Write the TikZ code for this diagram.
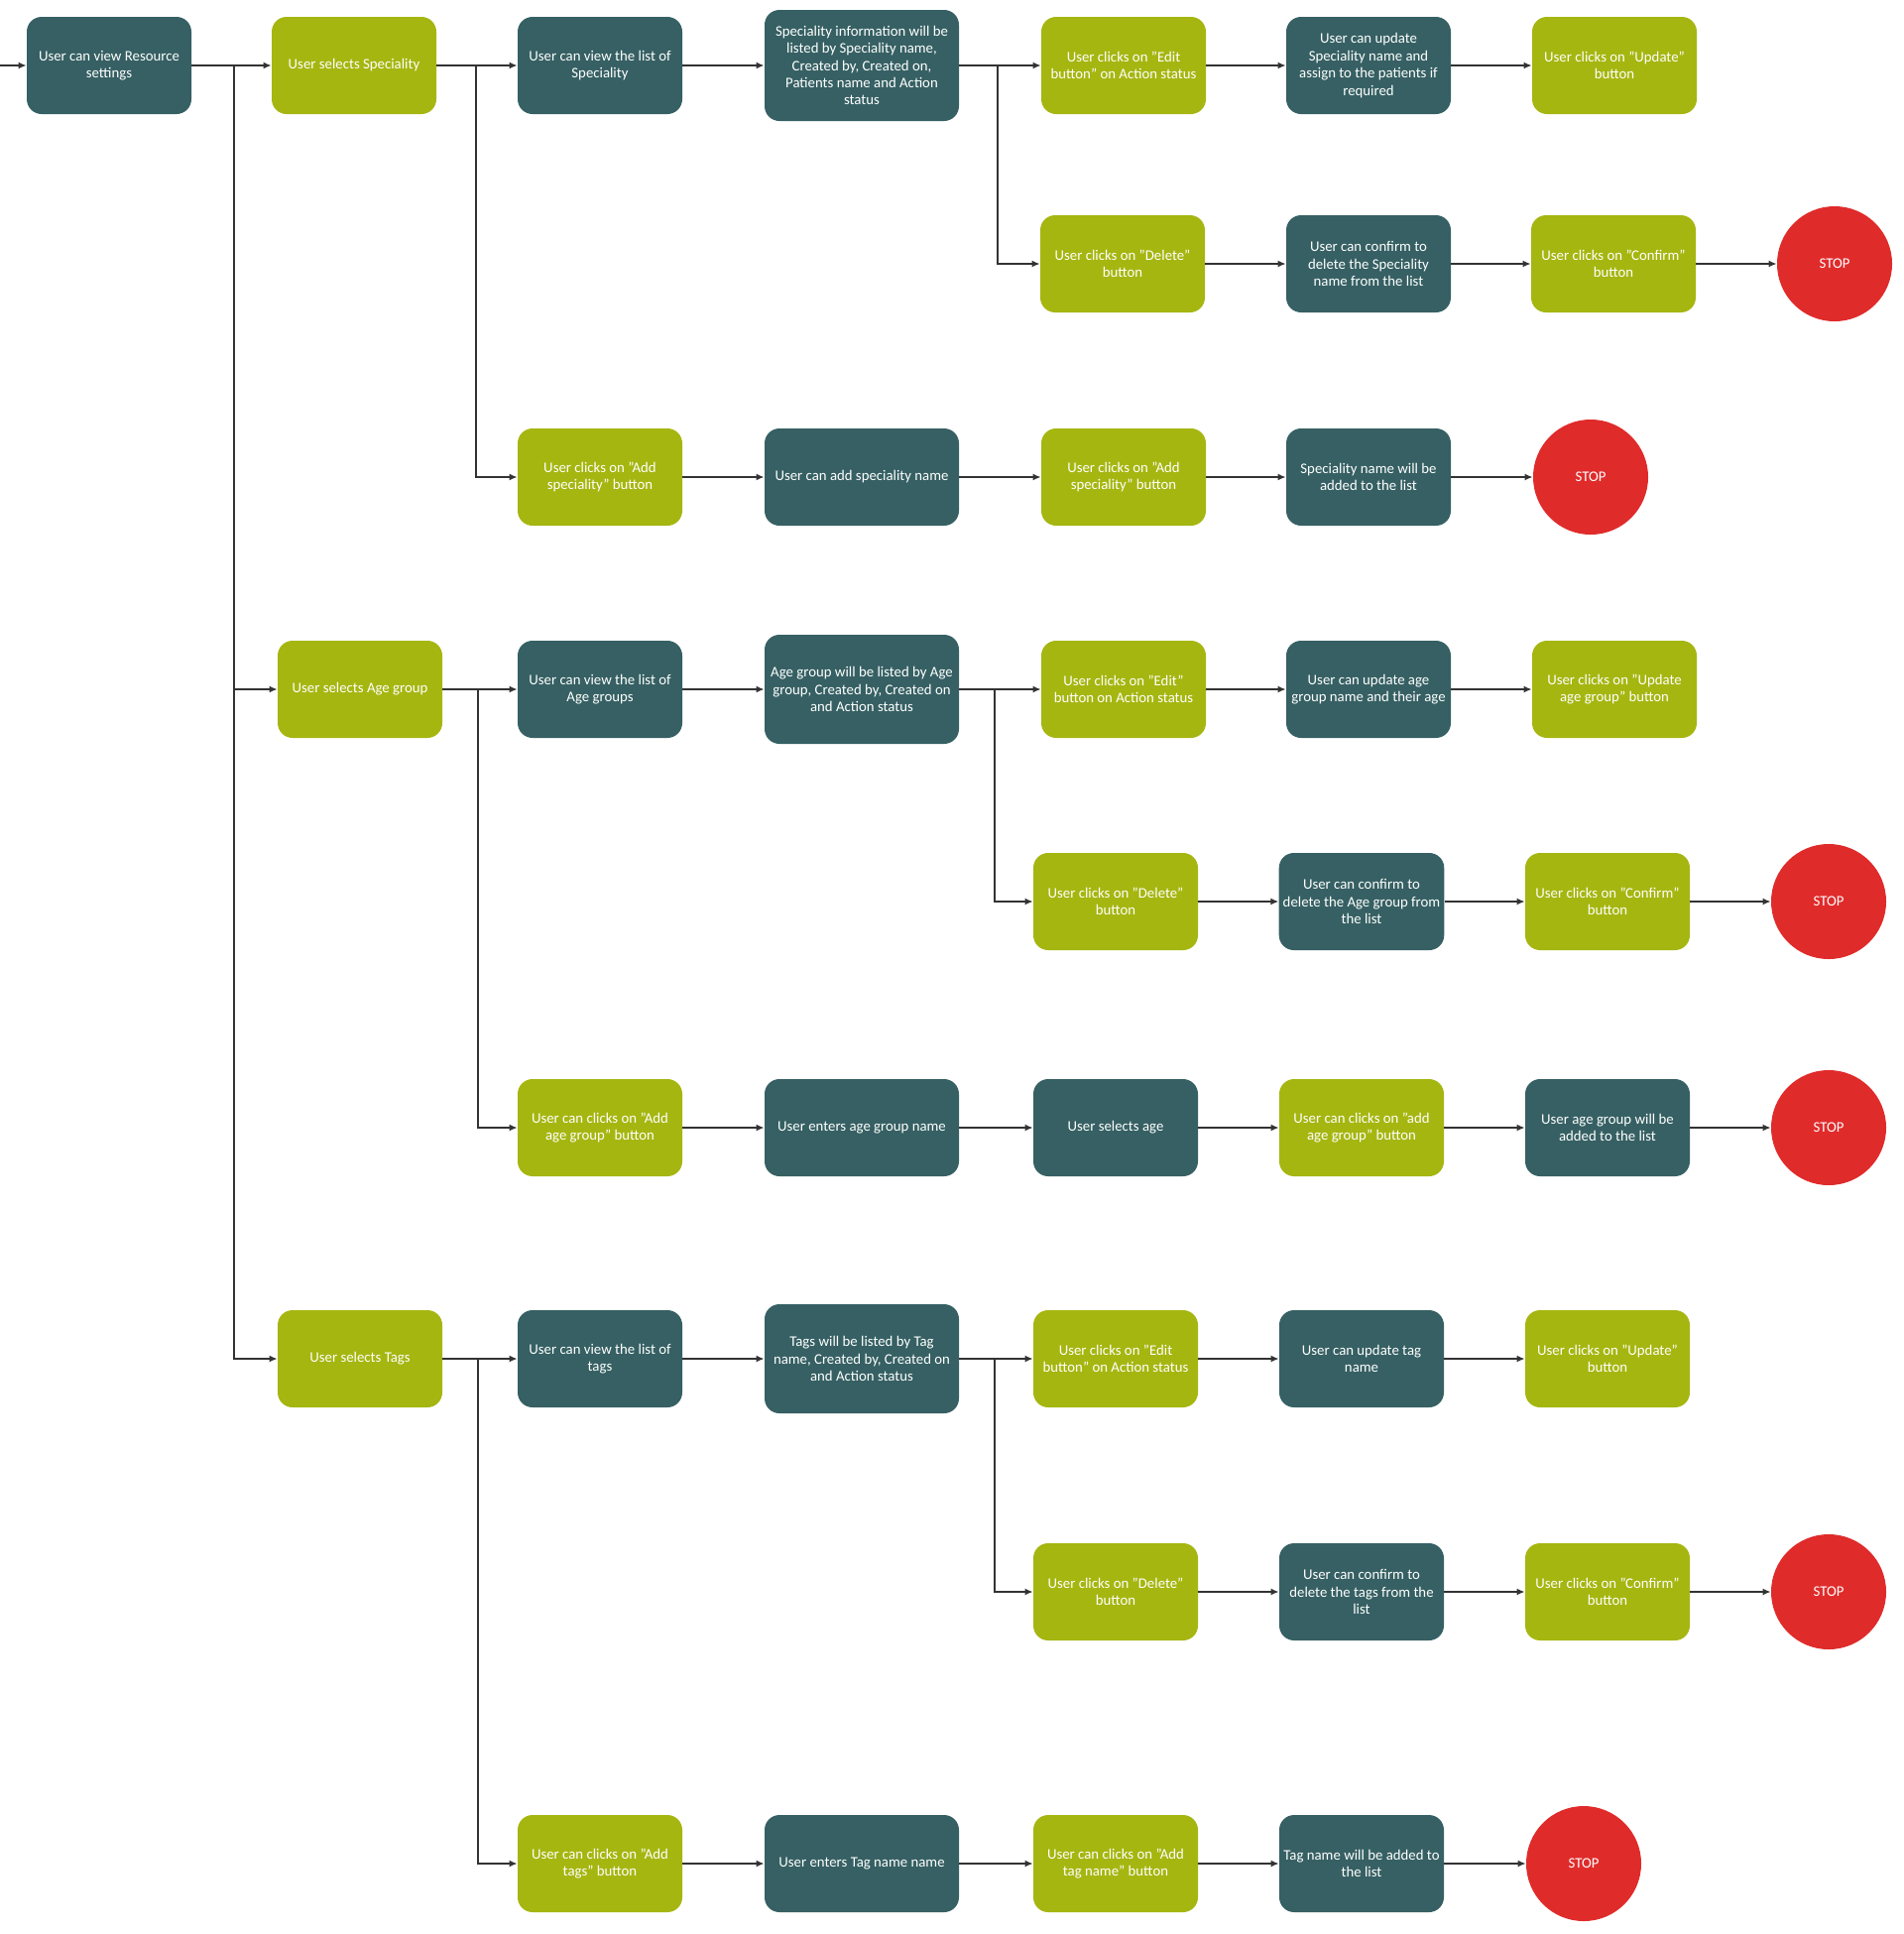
\documentclass[tikz,border=0pt]{standalone}
\usepackage{fontspec}
\setmainfont{Carlito}
\usetikzlibrary{arrows.meta}
\definecolor{darkbox}{RGB}{54,96,99}
\definecolor{greenbox}{RGB}{165,182,16}
\definecolor{stopred}{RGB}{224,43,43}
\definecolor{linegray}{RGB}{51,51,51}
\newcommand{\qq}{\char34\relax}
\begin{document}
\begin{tikzpicture}[x=0.5pt,y=-0.5pt,
  box/.style={rounded corners=7.5pt, minimum width=83pt, minimum height=49pt, align=center, text=white, font=\fontsize{7.4}{8.7}\selectfont, inner sep=2pt},
  dk/.style={box, fill=darkbox},
  gr/.style={box, fill=greenbox},
  wide/.style={minimum width=98pt, minimum height=55pt},
  stopc/.style={circle, fill=stopred, minimum size=58pt, inner sep=0pt, text=white, font=\fontsize{7.4}{8.7}\selectfont},
  arr/.style={-{Latex[length=4pt,width=3.5pt]}, draw=linegray, line width=0.75pt},
  ln/.style={draw=linegray, line width=0.75pt}]
\useasboundingbox (0,0) rectangle (1920,1950);

% ---------- Row 1 ----------
\node[dk] (a) at (110,66) {User can view Resource\\settings};
\node[gr] (spec) at (357,66) {User selects Speciality};
\node[dk] (viewspec) at (605,66) {User can view the list of\\Speciality};
\node[dk,wide,minimum height=56pt] (specinfo) at (869,66) {Speciality information will be\\listed by Speciality name,\\Created by, Created on,\\Patients name and Action\\status};
\node[gr] (edit1) at (1133,66) {User clicks on \qq Edit\\button\qq{} on Action status};
\node[dk] (upd1) at (1380,66) {User can update\\Speciality name and\\assign to the patients if\\required};
\node[gr] (updbtn1) at (1628,66) {User clicks on \qq Update\qq\\button};

% ---------- Row 2 ----------
\node[gr] (del1) at (1132,266) {User clicks on \qq Delete\qq\\button};
\node[dk] (conf1) at (1380,266) {User can confirm to\\delete the Speciality\\name from the list};
\node[gr] (confbtn1) at (1627,266) {User clicks on \qq Confirm\qq\\button};
\node[stopc] (stop1) at (1850,266) {STOP};

% ---------- Row 3 ----------
\node[gr] (addspec) at (605,481) {User clicks on \qq Add\\speciality\qq{} button};
\node[dk,wide,minimum height=49pt] (addname) at (869,481) {User can add speciality name};
\node[gr] (addspecbtn) at (1133,481) {User clicks on \qq Add\\speciality\qq{} button};
\node[dk] (specadded) at (1380,481) {Speciality name will be\\added to the list};
\node[stopc] (stop2) at (1604,481) {STOP};

% ---------- Row 4 ----------
\node[gr] (agesel) at (363,695) {User selects Age group};
\node[dk] (viewage) at (605,695) {User can view the list of\\Age groups};
\node[dk,wide] (ageinfo) at (869,695) {Age group will be listed by Age\\group, Created by, Created on\\and Action status};
\node[gr] (edit2) at (1133,695) {User clicks on \qq Edit\qq\\button on Action status};
\node[dk] (upd2) at (1380,695) {User can update age\\group name and their age};
\node[gr] (updbtn2) at (1628,695) {User clicks on \qq Update\\age group\qq{} button};

% ---------- Row 5 ----------
\node[gr] (del2) at (1125,909) {User clicks on \qq Delete\qq\\button};
\node[dk] (conf2) at (1373,909) {User can confirm to\\delete the Age group from\\the list};
\node[gr] (confbtn2) at (1621,909) {User clicks on \qq Confirm\qq\\button};
\node[stopc] (stop3) at (1844,909) {STOP};

% ---------- Row 6 ----------
\node[gr] (addage) at (605,1137) {User can clicks on \qq Add\\age group\qq{} button};
\node[dk,wide,minimum height=49pt] (enterage) at (869,1137) {User enters age group name};
\node[dk] (selage) at (1125,1137) {User selects age};
\node[gr] (addagebtn) at (1373,1137) {User can clicks on \qq add\\age group\qq{} button};
\node[dk] (ageadded) at (1621,1137) {User age group will be\\added to the list};
\node[stopc] (stop4) at (1844,1137) {STOP};

% ---------- Row 7 ----------
\node[gr] (tagsel) at (363,1370) {User selects Tags};
\node[dk] (viewtags) at (605,1370) {User can view the list of\\tags};
\node[dk,wide] (taginfo) at (869,1370) {Tags will be listed by Tag\\name, Created by, Created on\\and Action status};
\node[gr] (edit3) at (1125,1370) {User clicks on \qq Edit\\button\qq{} on Action status};
\node[dk] (upd3) at (1373,1370) {User can update tag\\name};
\node[gr] (updbtn3) at (1621,1370) {User clicks on \qq Update\qq\\button};

% ---------- Row 8 ----------
\node[gr] (del3) at (1125,1605) {User clicks on \qq Delete\qq\\button};
\node[dk] (conf3) at (1373,1605) {User can confirm to\\delete the tags from the\\list};
\node[gr] (confbtn3) at (1621,1605) {User clicks on \qq Confirm\qq\\button};
\node[stopc] (stop5) at (1844,1605) {STOP};

% ---------- Row 9 ----------
\node[gr] (addtags) at (605,1879) {User can clicks on \qq Add\\tags\qq{} button};
\node[dk,wide,minimum height=49pt] (entertag) at (869,1879) {User enters Tag name name};
\node[gr] (addtagbtn) at (1125,1879) {User can clicks on \qq Add\\tag name\qq{} button};
\node[dk] (tagadded) at (1373,1879) {Tag name will be added to\\the list};
\node[stopc] (stop6) at (1597,1879) {STOP};

% ---------- branch points ----------
\coordinate (in) at (0,66);
\coordinate (t0) at (236,66);
\coordinate (b1) at (480,66);
\coordinate (b2) at (1006,66);
\coordinate (b3) at (482,695);
\coordinate (b4) at (1003,695);
\coordinate (b5) at (482,1370);
\coordinate (b6) at (1003,1370);

% ---------- connectors ----------
\draw[arr] (in) -- (a.west);
\draw[arr] (a.east) -- (spec.west);
\draw[arr] (t0) |- (agesel.west);
\draw[arr] (t0) |- (tagsel.west);

\draw[arr] (spec.east) -- (viewspec.west);
\draw[arr] (b1) |- (addspec.west);
\draw[arr] (viewspec.east) -- (specinfo.west);
\draw[arr] (specinfo.east) -- (edit1.west);
\draw[arr] (b2) |- (del1.west);
\draw[arr] (edit1.east) -- (upd1.west);
\draw[arr] (upd1.east) -- (updbtn1.west);
\draw[arr] (del1.east) -- (conf1.west);
\draw[arr] (conf1.east) -- (confbtn1.west);
\draw[arr] (confbtn1.east) -- (stop1.west);
\draw[arr] (addspec.east) -- (addname.west);
\draw[arr] (addname.east) -- (addspecbtn.west);
\draw[arr] (addspecbtn.east) -- (specadded.west);
\draw[arr] (specadded.east) -- (stop2.west);

\draw[arr] (agesel.east) -- (viewage.west);
\draw[arr] (b3) |- (addage.west);
\draw[arr] (viewage.east) -- (ageinfo.west);
\draw[arr] (ageinfo.east) -- (edit2.west);
\draw[arr] (b4) |- (del2.west);
\draw[arr] (edit2.east) -- (upd2.west);
\draw[arr] (upd2.east) -- (updbtn2.west);
\draw[arr] (del2.east) -- (conf2.west);
\draw[arr] (conf2.east) -- (confbtn2.west);
\draw[arr] (confbtn2.east) -- (stop3.west);
\draw[arr] (addage.east) -- (enterage.west);
\draw[arr] (enterage.east) -- (selage.west);
\draw[arr] (selage.east) -- (addagebtn.west);
\draw[arr] (addagebtn.east) -- (ageadded.west);
\draw[arr] (ageadded.east) -- (stop4.west);

\draw[arr] (tagsel.east) -- (viewtags.west);
\draw[arr] (b5) |- (addtags.west);
\draw[arr] (viewtags.east) -- (taginfo.west);
\draw[arr] (taginfo.east) -- (edit3.west);
\draw[arr] (b6) |- (del3.west);
\draw[arr] (edit3.east) -- (upd3.west);
\draw[arr] (upd3.east) -- (updbtn3.west);
\draw[arr] (del3.east) -- (conf3.west);
\draw[arr] (conf3.east) -- (confbtn3.west);
\draw[arr] (confbtn3.east) -- (stop5.west);
\draw[arr] (addtags.east) -- (entertag.west);
\draw[arr] (entertag.east) -- (addtagbtn.west);
\draw[arr] (addtagbtn.east) -- (tagadded.west);
\draw[arr] (tagadded.east) -- (stop6.west);
\end{tikzpicture}
\end{document}
